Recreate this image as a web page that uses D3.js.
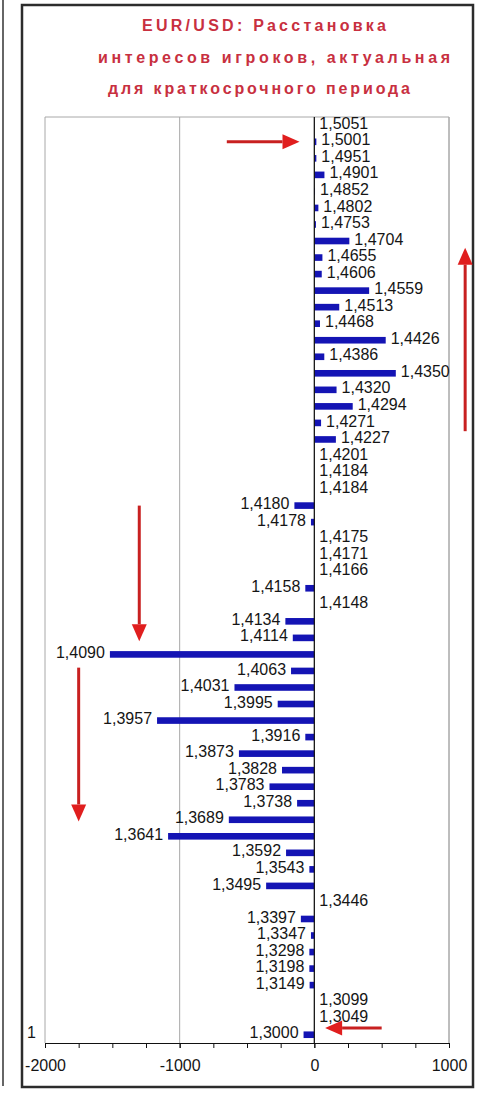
<!DOCTYPE html>
<html>
<head>
<meta charset="utf-8">
<script src="https://cdn.jsdelivr.net/npm/d3@7/dist/d3.min.js"></script>
<style>
body{margin:0;background:#fff;}
svg{display:block;}
.title{font-family:"Liberation Sans",Arial,sans-serif;font-size:16px;font-weight:bold;fill:#c8303f;}
.price-label{font-family:"Liberation Sans",Arial,sans-serif;font-size:16px;fill:#151515;}
.x-axis text{font-family:"Liberation Sans",Arial,sans-serif;font-size:16px;fill:#151515;}
.x-axis path,.x-axis line{stroke:#111;}
.grid-line{stroke:#a8a8a8;stroke-width:1;}
.zero-line{stroke:#111;stroke-width:1.2;}
.bar{fill:#1414b4;}
.arrow{stroke:#c82020;stroke-width:3;fill:none;}
.arrow-head{fill:#e01e1e;}
</style>
</head>
<body>
<div id="chart"></div>
<script>
// price levels (top to bottom) and the volume at each level
let prices = ["1,5051","1,5001","1,4951","1,4901","1,4852","1,4802","1,4753","1,4704",
	"1,4655","1,4606","1,4559","1,4513","1,4468","1,4426","1,4386","1,4350",
	"1,4320","1,4294","1,4271","1,4227","1,4201","1,4184","1,4184","1,4180",
	"1,4178","1,4175","1,4171","1,4166","1,4158","1,4148","1,4134","1,4114",
	"1,4090","1,4063","1,4031","1,3995","1,3957","1,3916","1,3873","1,3828",
	"1,3783","1,3738","1,3689","1,3641","1,3592","1,3543","1,3495","1,3446",
	"1,3397","1,3347","1,3298","1,3198","1,3149","1,3099","1,3049","1,3000"];
let volumes = [0,15,15,75,5,30,12,260,
	60,55,407,185,42,530,74,605,
	165,285,50,160,0,0,0,-148,
	-25,0,0,0,-67,0,-215,-160,
	-1518,-173,-593,-272,-1168,-67,-560,-240,
	-333,-128,-635,-1086,-210,-37,-358,0,
	-100,-25,-37,-37,-35,0,0,-80];
let x_domain = [-2000,1000];
let x_tick_values = [-2000,-1000,0,1000];
let x_minor_step = 250;
let title_lines = ["EUR/USD: Расстановка","интересов игроков, актуальная","для краткосрочного периода"];
// red arrows: x in volume units, r = row index (fractional) of the price axis
let arrows = [
	{x1:-650,x2:-110,r1:1,r2:1},
	{x1:1120,x2:1120,r1:18.5,r2:7.4},
	{x1:-1300,x2:-1300,r1:23,r2:31.2},
	{x1:-1750,x2:-1750,r1:32.8,r2:42.1},
	{x1:500,x2:80,r1:54.6,r2:54.6}
];

let total_width = 481;
let total_height = 1095;
let plot = {left:45,right:449,top:117,bottom:1043};

var svg = d3.select("#chart").append("svg")
	.attr("width",total_width)
	.attr("height",total_height);

// stray frame line of the neighbouring panel + the outer frame
svg.append("line")
	.attr("x1",3).attr("x2",3).attr("y1",0).attr("y2",1086)
	.attr("stroke","#666").attr("stroke-width",2);
svg.append("rect")
	.attr("x",22).attr("y",5)
	.attr("width",451).attr("height",1082)
	.attr("fill","none").attr("stroke","#2c2c2c").attr("stroke-width",2.5);

// title
let title_pos = [{x:142,y:31,w:244},{x:98,y:63,w:352},{x:108,y:94,w:302}];
svg.append("g").selectAll("text").data(title_lines).enter().append("text")
	.attr("class","title")
	.attr("x",(d,i)=>title_pos[i].x)
	.attr("y",(d,i)=>title_pos[i].y)
	.attr("textLength",(d,i)=>title_pos[i].w)
	.attr("lengthAdjust","spacing")
	.text(d=>d);

var x = d3.scaleLinear()
	.domain(x_domain)
	.range([plot.left,plot.right]);

var y = d3.scaleBand()
	.domain(d3.range(prices.length))
	.range([plot.top,plot.bottom])
	.paddingInner(0.6)
	.paddingOuter(0.3);

let rowY = r => y(0) + y.bandwidth()/2 + r*y.step();

// plot area border + vertical gridlines
svg.append("line").attr("class","grid-line")
	.attr("x1",plot.left).attr("x2",plot.right)
	.attr("y1",plot.top).attr("y2",plot.top);
svg.append("g").selectAll("line").data(x_tick_values.concat([x_domain[1]])).enter().append("line")
	.attr("class","grid-line")
	.attr("x1",d=>x(d)).attr("x2",d=>x(d))
	.attr("y1",plot.top).attr("y2",plot.bottom);

// bars
svg.append("g").selectAll("rect").data(volumes).enter().append("rect")
	.attr("class","bar")
	.attr("x",d=>x(Math.min(0,d)))
	.attr("width",d=>Math.abs(x(d)-x(0)))
	.attr("y",(d,i)=>y(i))
	.attr("height",y.bandwidth());

// zero line (category axis)
svg.append("line").attr("class","zero-line")
	.attr("x1",x(0)).attr("x2",x(0))
	.attr("y1",plot.top).attr("y2",plot.bottom);

// price labels at bar ends
let gap = 5;
svg.append("g").selectAll("text").data(volumes).enter().append("text")
	.attr("class","price-label")
	.attr("x",d=> d<0 ? x(d)-gap : x(d)+gap)
	.attr("y",(d,i)=>y(i)+y.bandwidth()/2-2)
	.attr("dy","0.35em")
	.attr("text-anchor",d=> d<0 ? "end" : "start")
	.text((d,i)=>prices[i]);

// lone "1" on the left of the bottom row
svg.append("text")
	.attr("class","price-label")
	.attr("x",plot.left-18)
	.attr("y",rowY(prices.length-1)-2)
	.attr("dy","0.35em")
	.text("1");

// x axis: minor ticks every 250, labels every 1000
svg.append("g")
	.attr("class","x-axis")
	.attr("transform","translate(0,"+plot.bottom+")")
	.call(d3.axisBottom(x).tickValues(d3.range(x_domain[0],x_domain[1]+1,x_minor_step)).tickSize(5).tickSizeOuter(0).tickFormat(""));
svg.append("g")
	.attr("class","x-axis")
	.attr("transform","translate(0,"+plot.bottom+")")
	.call(d3.axisBottom(x).tickValues(x_tick_values).tickSize(5).tickSizeOuter(0).tickPadding(12)
		.tickFormat(d=> d<0 ? "-"+Math.abs(d) : String(d)))
	.call(g=>g.select(".domain").remove());

// red arrows
let head_len = 17, head_w = 7.5;
let ag = svg.append("g");
arrows.forEach(a=>{
	let x1 = x(a.x1), x2 = x(a.x2), y1 = rowY(a.r1), y2 = rowY(a.r2);
	let ang = Math.atan2(y2-y1,x2-x1);
	let bx = x2 - head_len*Math.cos(ang), by = y2 - head_len*Math.sin(ang);
	ag.append("line").attr("class","arrow")
		.attr("x1",x1).attr("y1",y1).attr("x2",bx).attr("y2",by);
	let px = -Math.sin(ang)*head_w, py = Math.cos(ang)*head_w;
	ag.append("polygon").attr("class","arrow-head")
		.attr("points",[[x2,y2],[bx+px,by+py],[bx-px,by-py]].map(p=>p.join(",")).join(" "));
});
</script>
</body>
</html>
